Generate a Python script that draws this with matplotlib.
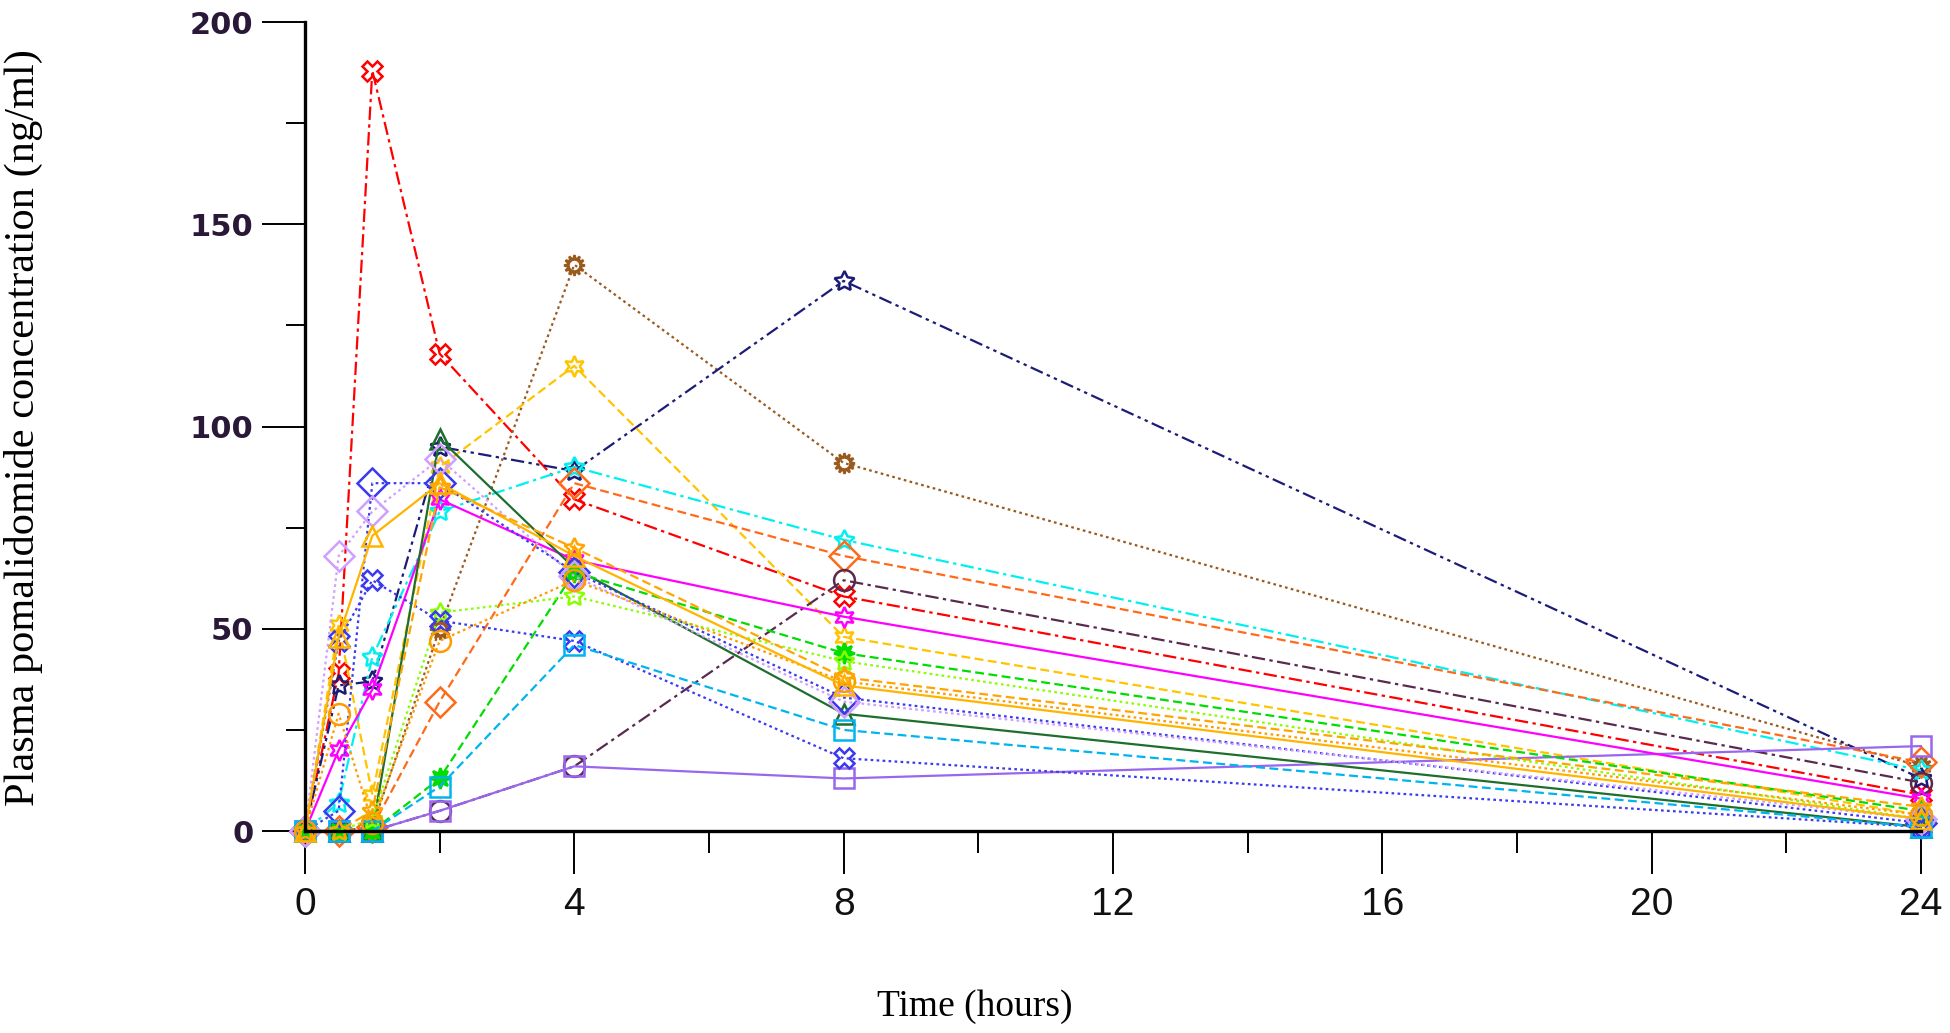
import matplotlib
matplotlib.use("Agg")
import matplotlib.pyplot as plt
from matplotlib.ticker import MultipleLocator

# ---- data (time in hours, concentration in ng/ml) ----
times = [0, 0.5, 1, 2, 4, 8, 24]

s01 = [0, 39, 188, 118, 82, 58, 9]
s02 = [0, 0, 1, 50, 140, 91, 16]
s03 = [0, 36, 37, 95, 89, 136, 13]
s04 = [0, 51, 9, 90, 115, 48, 4]
s05 = [0, 7, 43, 79, 90, 72, 15]
s06 = [0, 0, 1, 32, 86, 68, 17]
s07 = [0, 0, 0, 5, 16, 62, 12]
s08 = [0, 0, 0, 5, 16, 13, 21]
s09 = [0, 20, 35, 82, 67, 53, 8]
s10 = [0, 0, 0, 97, 65, 29, 1]
s11 = [0, 0, 0, 13, 64, 44, 5]
s12 = [0, 0, 3, 54, 58, 42, 3]
s13 = [0, 47, 62, 52, 47, 18, 1]
s14 = [0, 5, 86, 86, 64, 33, 2]
s15 = [0, 68, 79, 92, 63, 32, 3]
s16 = [0, 0, 0, 11, 46, 25, 1]
s17 = [0, 29, 2, 47, 62, 37, 4]
s18 = [0, 48, 73, 86, 68, 36, 3]
s19 = [0, 0, 5, 85, 70, 38, 6]

subjects = [s01, s02, s03, s04, s05, s06, s07, s08, s09, s10,
            s11, s12, s13, s14, s15, s16, s17, s18, s19]

x_ticks = [0, 4, 8, 12, 16, 20, 24]
y_ticks = [0, 50, 100, 150, 200]

# ---- styles ----
dashdot = (0, (6, 2, 1.5, 2))
dashdotdot = (0, (6, 2, 1.5, 2, 1.5, 2))
dotted = (0, (1.2, 1.5))
dashed = (0, (4, 2))
styles = [
    ("#FF0000", dashdot, "X"),
    ("#9A5A1E", dotted, (12, 1, 0)),
    ("#1C1C78", dashdotdot, (5, 1, 0)),
    ("#FFC400", dashed, (6, 1, 0)),
    ("#00F0F0", dashdot, (5, 1, 0)),
    ("#FF6A1A", dashed, "D"),
    ("#5A2A4E", dashdot, "o"),
    ("#9966EE", "-", "s"),
    ("#FF00FF", "-", (6, 1, 0)),
    ("#1E6E2E", "-", "^"),
    ("#00DD00", dashed, (8, 1, 0)),
    ("#88FF00", dotted, (5, 1, 0)),
    ("#3A3AF0", dotted, "X"),
    ("#3A3AF0", dotted, "D"),
    ("#CFA0FF", dotted, "D"),
    ("#00B4F0", dashed, "s"),
    ("#FF9A00", dotted, "o"),
    ("#FFB400", "-", "^"),
    ("#FFA500", dashed, (5, 1, 0)),
]

fig = plt.figure(figsize=(19.5, 10.33), dpi=100)
ax = fig.add_axes([0.1564, 0.1955, 0.8287, 0.7832])

for vals, (col, ls, mk) in zip(subjects, styles):
    filled = col in ("#00DD00",)
    ax.plot(times, vals, color=col, linestyle=ls, linewidth=1.6,
            marker=mk, markersize=15, markeredgewidth=1.8,
            markerfacecolor=(col if filled else "none"),
            markeredgecolor=col, clip_on=False)

ax.set_xlim(0, 24)
ax.set_ylim(0, 200)
for sp in ("top", "right"):
    ax.spines[sp].set_visible(False)
for sp in ("left", "bottom"):
    ax.spines[sp].set_linewidth(2.4)
    ax.spines[sp].set_color("black")

ax.set_xticks(x_ticks)
ax.set_yticks(y_ticks)
ax.xaxis.set_minor_locator(MultipleLocator(2))
ax.yaxis.set_minor_locator(MultipleLocator(25))
ax.tick_params(axis="both", which="major", direction="out", length=31,
               width=1.4, color="black")
ax.tick_params(axis="x", which="minor", direction="out", length=16,
               width=1.4, color="black")
ax.tick_params(axis="y", which="minor", direction="out", length=14,
               width=1.4, color="black")
ax.tick_params(axis="y", which="major", pad=6)
ax.tick_params(axis="x", which="major", pad=9)

for lab in ax.get_yticklabels():
    lab.set_fontfamily(["DejaVu Sans"])
    lab.set_fontsize(22)
    lab.set_fontweight("bold")
    lab.set_color("#2A1838")
for lab in ax.get_xticklabels():
    lab.set_fontfamily(["Liberation Sans Narrow", "Liberation Sans", "DejaVu Sans"])
    lab.set_fontsize(28)
    lab.set_color("#111111")

fig.text(975 / 1950, 1 - 1007 / 1033, "Time (hours)", ha="center",
         va="center", fontsize=27, family=["Liberation Serif", "DejaVu Serif"])
fig.text(23 / 1950, 1 - 428 / 1033, "Plasma pomalidomide concentration (ng/ml)",
         ha="center", va="center", rotation=90, fontsize=30.5,
         family=["Liberation Serif", "DejaVu Serif"])

fig.savefig("out.png", dpi=100)
